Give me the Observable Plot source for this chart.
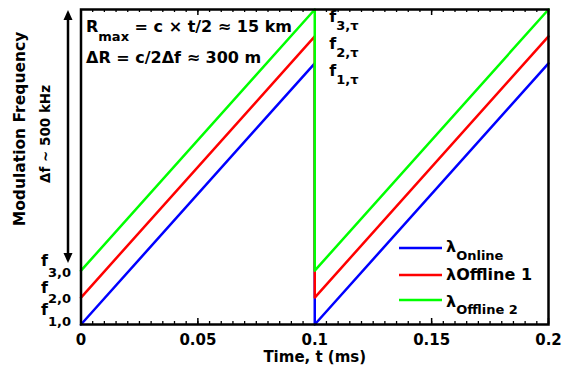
<!DOCTYPE html>
<html>
<head>
<meta charset="utf-8">
<script src="https://cdn.jsdelivr.net/npm/d3@7"></script>
<script src="https://cdn.jsdelivr.net/npm/@observablehq/plot@0.6"></script>
<style>
  html, body { margin: 0; padding: 0; background: #fff; }
  svg text { font-family: "DejaVu Sans", sans-serif; font-weight: bold; }
</style>
</head>
<body>
<div id="chart"></div>
<script>
// ---- data ----
const series = ["Online", "Offline 1", "Offline 2"];
const colors = ["#0000ff", "#ff0000", "#00ff00"];
const startFreq = [0, 1, 2];          // f_{i,0}
const endFreq = [9.7, 10.7, 11.7];    // f_{i,tau}
const sweepTimes = [0, 0.1, 0.1, 0.2]; // ms
const sweepLevel = ["start", "end", "start", "end"];
const xTicks = [0, 0.05, 0.1, 0.15, 0.2];
const xTickLabels = ["0", "0.05", "0.1", "0.15", "0.2"];
const minorTicks = d3.range(0, 0.2001, 0.005);
const startSubs = ["1,0", "2,0", "3,0"];
const endSubs = ["1,τ", "2,τ", "3,τ"];

const rows = [];
series.forEach((s, i) => {
  sweepTimes.forEach((t, j) => {
    rows.push({series: s, t, f: sweepLevel[j] === "start" ? startFreq[i] : endFreq[i]});
  });
});

const chart = Plot.plot({
  width: 562,
  height: 368,
  marginLeft: 80.5,
  marginRight: 14,
  marginTop: 9,
  marginBottom: 44,
  x: {domain: [0, 0.2]},
  y: {domain: [0, 11.7], axis: null},
  color: {domain: series, range: colors},
  style: {fontFamily: "DejaVu Sans", fontWeight: "bold", fontSize: "15px", color: "black", background: "white"},
  marks: [
    Plot.ruleX(minorTicks, {x: d => d, insetTop: 312, stroke: "black", strokeWidth: 1.3}),
    Plot.ruleX(minorTicks, {x: d => d, insetBottom: 312, stroke: "black", strokeWidth: 1.3}),
    Plot.ruleX(xTicks, {x: d => d, insetTop: 309, stroke: "black", strokeWidth: 1.5}),
    Plot.ruleX(xTicks, {x: d => d, insetBottom: 309, stroke: "black", strokeWidth: 1.5}),
    Plot.line(rows, {x: "t", y: "f", z: "series", stroke: "series", strokeWidth: 2.5}),
    Plot.frame({stroke: "black", strokeWidth: 2.5}),
    Plot.axisX({ticks: xTicks, tickSize: 0, tickPadding: 10, tickFormat: d => xTickLabels[xTicks.indexOf(d)], label: null, fontSize: 15}),
    Plot.text(["Time, t (ms)"], {frameAnchor: "bottom", dy: 37, fontSize: 15})
  ]
});
document.getElementById("chart").appendChild(chart);

// ---- annotations using the plot's scales ----
const svg = d3.select(chart);
const X = v => chart.scale("x").apply(v);
const Y = v => chart.scale("y").apply(v);
const g = svg.append("g").attr("fill", "black").attr("text-anchor", "start");

function subText(x, y, main, sub, opts = {}) {
  const t = g.append("text").attr("x", x).attr("y", y)
    .attr("font-size", opts.size || 16)
    .attr("text-anchor", opts.anchor || "start");
  t.append("tspan").text(main);
  t.append("tspan").attr("font-size", opts.subSize || 13).attr("dy", opts.subDy || 9).text(sub);
  if (opts.rest) t.append("tspan").attr("dy", -(opts.subDy || 9)).text(opts.rest);
  return t;
}

// left start labels f_{i,0}
const startDy = [[-9, 11], [-4, 10], [-4, 11]];
startFreq.forEach((f, i) => {
  subText(71, Y(f) + startDy[i][0], "f", startSubs[i], {anchor: "end", subDy: startDy[i][1], size: 16, subSize: 13});
});
// right end labels f_{i,tau}
endFreq.forEach((f, i) => {
  subText(X(0.1) + 15, Y(f) + 13, "f", endSubs[i], {size: 16, subSize: 13, subDy: 8});
});

// top-left formulas
subText(86, 32, "R", "max", {size: 16, subSize: 13, subDy: 9, rest: " = c × t/2 ≈ 15 km"});
g.append("text").attr("x", 86).attr("y", 63).attr("font-size", 16).attr("text-anchor", "start").text("ΔR = c/2Δf ≈ 300 m");

// rotated y labels
g.append("text").attr("transform", "translate(25,129) rotate(-90)").attr("text-anchor", "middle")
  .attr("font-size", 15.5).text("Modulation Frequency");
g.append("text").attr("transform", "translate(50,134) rotate(-90)").attr("text-anchor", "middle")
  .attr("font-size", 13.5).text("Δf ~ 500 kHz");

// double arrow
const ax = 68, aTop = 10, aBot = 263;
g.append("line").attr("x1", ax).attr("x2", ax).attr("y1", aTop + 8).attr("y2", aBot - 8)
  .attr("stroke", "black").attr("stroke-width", 2.5);
g.append("path").attr("d", `M${ax},${aTop} L${ax - 4.5},${aTop + 10} L${ax + 4.5},${aTop + 10} Z`);
g.append("path").attr("d", `M${ax},${aBot} L${ax - 4.5},${aBot - 10} L${ax + 4.5},${aBot - 10} Z`);

// legend
const legY = [248, 275, 300];
const color = chart.scale("color");
series.forEach((s, i) => {
  g.append("line").attr("x1", 399).attr("x2", 442).attr("y1", legY[i]).attr("y2", legY[i])
    .attr("stroke", color.apply(s)).attr("stroke-width", 2.5);
});
subText(446, legY[0] + 4, "λ", "Online", {size: 16, subSize: 13, subDy: 8});
g.append("text").attr("x", 446).attr("y", legY[1] + 5).attr("font-size", 16).attr("text-anchor", "start").text("λOffline 1");
subText(446, legY[2] + 7, "λ", "Offline 2", {size: 16, subSize: 13, subDy: 7});
</script>
</body>
</html>
